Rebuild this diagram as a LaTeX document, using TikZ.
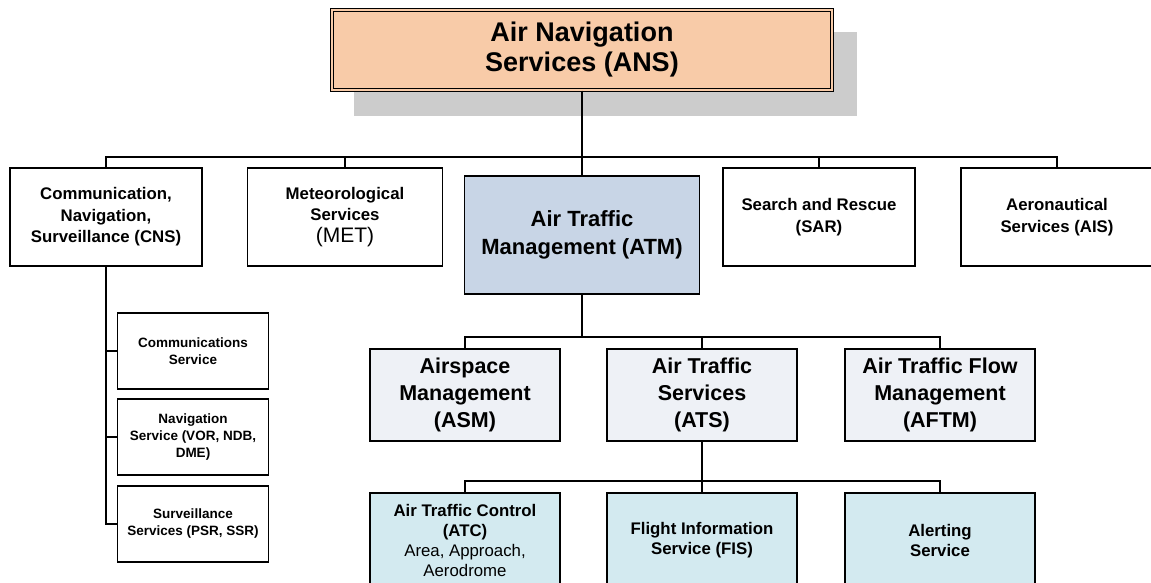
\documentclass[tikz,border=0pt]{standalone}
\usepackage{fontspec}
\setmainfont{Liberation Sans}
\definecolor{peach}{HTML}{F8CBA8}
\definecolor{atmblue}{HTML}{C8D5E6}
\definecolor{paleblue}{HTML}{EEF1F6}
\definecolor{palecyan}{HTML}{D3EAF0}
\definecolor{shadowgray}{HTML}{CCCCCC}
\tikzset{
  box/.style={draw=black, line width=1.5pt, align=center, inner sep=2pt},
  lvlone/.style={box, fill=white, minimum width=192pt, minimum height=98pt,
    font=\bfseries\fontsize{16.8}{21.5}\selectfont},
  atmbox/.style={box, fill=atmblue, minimum width=235pt, minimum height=118pt,
    font=\bfseries\fontsize{22}{28}\selectfont},
  lvltwo/.style={box, fill=paleblue, minimum width=190pt, minimum height=92pt,
    font=\bfseries\fontsize{21.5}{27}\selectfont},
  lvlthree/.style={box, fill=palecyan, minimum width=190pt, minimum height=94pt,
    font=\bfseries\fontsize{16.8}{20}\selectfont},
  subbox/.style={box, fill=white, minimum width=151pt, minimum height=76pt,
    font=\bfseries\fontsize{13.5}{17}\selectfont},
  conn/.style={draw=black, line width=1.8pt},
}
\begin{document}
\begin{tikzpicture}[x=1pt, y=-1pt]
\clip (0,0) rectangle (1151,583);
\fill[white] (0,0) rectangle (1151,583);

% shadow behind the root box
\fill[shadowgray] (354,32) rectangle (857,116);

% root
\node[draw=black, line width=1.2pt, double=peach, double distance=2.2pt,
      fill=peach, minimum width=500pt, minimum height=80pt, align=center,
      font=\bfseries\fontsize{27}{30}\selectfont] (ans) at (582,50)
  {Air Navigation\\Services (ANS)};

% first level
\node[lvlone] (cns) at (106,217) {Communication,\\Navigation,\\Surveillance (CNS)};
\node[lvlone, minimum width=195pt] (met) at (345,217)
  {Meteorological\\Services\\{\mdseries\fontsize{21}{26}\selectfont(MET)}};
\node[atmbox] (atm) at (582,235) {Air Traffic\\Management (ATM)};
\node[lvlone] (sar) at (819,217) {Search and Rescue\\(SAR)};
\node[lvlone] (ais) at (1057,217) {Aeronautical\\Services (AIS)};

% CNS services
\node[subbox] (comm) at (193,351) {Communications\\Service};
\node[subbox] (nav) at (193,437) {Navigation\\Service (VOR, NDB,\\DME)};
\node[subbox] (surv) at (193,524) {Surveillance\\Services (PSR, SSR)};

% ATM components
\node[lvltwo] (asm) at (465,395) {Airspace\\Management\\(ASM)};
\node[lvltwo] (ats) at (702,395) {Air Traffic\\Services\\(ATS)};
\node[lvltwo] (aftm) at (940,395) {Air Traffic Flow\\Management\\(AFTM)};

% ATS components
\node[lvlthree] (atc) at (465,540)
  {Air Traffic Control\\(ATC)\\{\mdseries Area, Approach,}\\{\mdseries Aerodrome}};
\node[lvlthree] (fis) at (702,540) {Flight Information\\Service (FIS)};
\node[lvlthree] (alert) at (940,540) {Alerting\\Service};

% bus coordinates
\coordinate (busa) at (582,157);
\coordinate (busb) at (582,337);
\coordinate (busc) at (702,481);

% connectors: root to first level
\draw[conn] (ans.south) -- (atm.north);
\draw[conn] (cns.north) |- (busa) -| (ais.north);
\draw[conn] (met.north) -- (met.north |- busa);
\draw[conn] (sar.north) -- (sar.north |- busa);

% connectors: CNS to its services
\draw[conn] (cns.south) -- (cns.south |- surv.west) -- (surv.west);
\draw[conn] (cns.south |- comm.west) -- (comm.west);
\draw[conn] (cns.south |- nav.west) -- (nav.west);

% connectors: ATM to its components
\draw[conn] (atm.south) -- (busb);
\draw[conn] (asm.north) |- (busb) -| (aftm.north);
\draw[conn] (ats.north) -- (ats.north |- busb);

% connectors: ATS to its components
\draw[conn] (ats.south) -- (fis.north);
\draw[conn] (atc.north) |- (busc) -| (alert.north);
\end{tikzpicture}
\end{document}
